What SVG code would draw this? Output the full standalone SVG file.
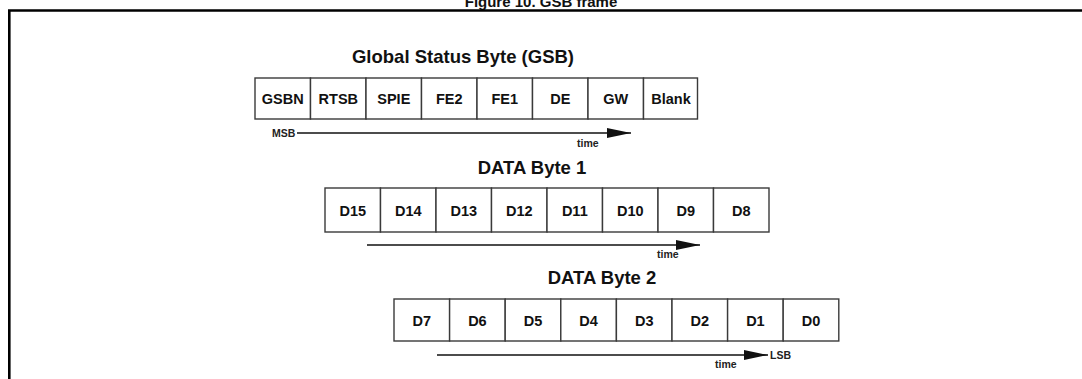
<svg xmlns="http://www.w3.org/2000/svg" width="1082" height="379" viewBox="0 0 1082 379">
<style>
.cell{fill:#fff;stroke:#3a3a3a;stroke-width:1.4}
.ct{font-family:"Liberation Sans",Arial,sans-serif;font-weight:bold;font-size:14.5px;fill:#111;text-anchor:middle}
.hd{font-family:"Liberation Sans",Arial,sans-serif;font-weight:bold;font-size:18.5px;fill:#111;text-anchor:middle}
.sm{font-family:"Liberation Sans",Arial,sans-serif;font-weight:bold;font-size:10.5px;fill:#222}
.ar{stroke:#111;stroke-width:1.5;fill:none}
.frame{stroke:#000;stroke-width:2.6;fill:none}
</style>
<defs>
<marker id="ah" markerWidth="24" markerHeight="10" refX="24" refY="5" orient="auto" markerUnits="userSpaceOnUse">
<path d="M0,0 L24,5 L0,10 Z" fill="#111"/>
</marker>
</defs>
<text x="541" y="7" class="hd" style="font-size:15px">Figure 10. GSB frame</text>
<path class="frame" d="M9.3,379 V10.5 H1082"/>
<text x="463" y="63" class="hd">Global Status Byte (GSB)</text>
<text x="532" y="174" class="hd">DATA Byte 1</text>
<text x="602" y="284" class="hd">DATA Byte 2</text>
<g id="gsb">
<g id="gsbn"><rect class="cell" x="255" y="78" width="55.5" height="41"/><text class="ct" x="282.8" y="104">GSBN</text></g>
<g id="rtsb"><rect class="cell" x="310.5" y="78" width="55.5" height="41"/><text class="ct" x="338.3" y="104">RTSB</text></g>
<g id="spie"><rect class="cell" x="366" y="78" width="55.5" height="41"/><text class="ct" x="393.8" y="104">SPIE</text></g>
<g id="fe2"><rect class="cell" x="421.5" y="78" width="55.5" height="41"/><text class="ct" x="449.3" y="104">FE2</text></g>
<g id="fe1"><rect class="cell" x="477" y="78" width="55.5" height="41"/><text class="ct" x="504.8" y="104">FE1</text></g>
<g id="de"><rect class="cell" x="532.5" y="78" width="55.5" height="41"/><text class="ct" x="560.3" y="104">DE</text></g>
<g id="gw"><rect class="cell" x="588" y="78" width="55.5" height="41"/><text class="ct" x="615.8" y="104">GW</text></g>
<g id="blank"><rect class="cell" x="643.5" y="78" width="54" height="41"/><text class="ct" x="671" y="104">Blank</text></g>
</g>
<g id="byte1">
<g id="d15"><rect class="cell" x="325" y="188" width="55.5" height="44"/><text class="ct" x="352.8" y="216">D15</text></g>
<g id="d14"><rect class="cell" x="380.5" y="188" width="55.5" height="44"/><text class="ct" x="408.3" y="216">D14</text></g>
<g id="d13"><rect class="cell" x="436" y="188" width="55.5" height="44"/><text class="ct" x="463.8" y="216">D13</text></g>
<g id="d12"><rect class="cell" x="491.5" y="188" width="55.5" height="44"/><text class="ct" x="519.3" y="216">D12</text></g>
<g id="d11"><rect class="cell" x="547" y="188" width="55.5" height="44"/><text class="ct" x="574.8" y="216">D11</text></g>
<g id="d10"><rect class="cell" x="602.5" y="188" width="55.5" height="44"/><text class="ct" x="630.3" y="216">D10</text></g>
<g id="d9"><rect class="cell" x="658" y="188" width="55.5" height="44"/><text class="ct" x="685.8" y="216">D9</text></g>
<g id="d8"><rect class="cell" x="713.5" y="188" width="55.5" height="44"/><text class="ct" x="741.3" y="216">D8</text></g>
</g>
<g id="byte2">
<g id="d7"><rect class="cell" x="394" y="299" width="55.6" height="42"/><text class="ct" x="421.8" y="326">D7</text></g>
<g id="d6"><rect class="cell" x="449.6" y="299" width="55.6" height="42"/><text class="ct" x="477.4" y="326">D6</text></g>
<g id="d5"><rect class="cell" x="505.2" y="299" width="55.6" height="42"/><text class="ct" x="533" y="326">D5</text></g>
<g id="d4"><rect class="cell" x="560.8" y="299" width="55.6" height="42"/><text class="ct" x="588.6" y="326">D4</text></g>
<g id="d3"><rect class="cell" x="616.4" y="299" width="55.6" height="42"/><text class="ct" x="644.2" y="326">D3</text></g>
<g id="d2"><rect class="cell" x="672" y="299" width="55.6" height="42"/><text class="ct" x="699.8" y="326">D2</text></g>
<g id="d1"><rect class="cell" x="727.6" y="299" width="55.6" height="42"/><text class="ct" x="755.4" y="326">D1</text></g>
<g id="d0"><rect class="cell" x="783.2" y="299" width="55.6" height="42"/><text class="ct" x="811" y="326">D0</text></g>
</g>
<g id="connectors">
<line class="ar" x1="297" y1="133" x2="631" y2="133" marker-end="url(#ah)"/>
<line class="ar" x1="367" y1="245" x2="700" y2="245" marker-end="url(#ah)"/>
<line class="ar" x1="437" y1="355" x2="768" y2="355" marker-end="url(#ah)"/>
</g>
<text class="sm" x="272" y="137">MSB</text>
<text class="sm" x="577" y="147">time</text>
<text class="sm" x="657" y="258">time</text>
<text class="sm" x="715" y="368">time</text>
<text class="sm" x="770" y="359">LSB</text>
</svg>
